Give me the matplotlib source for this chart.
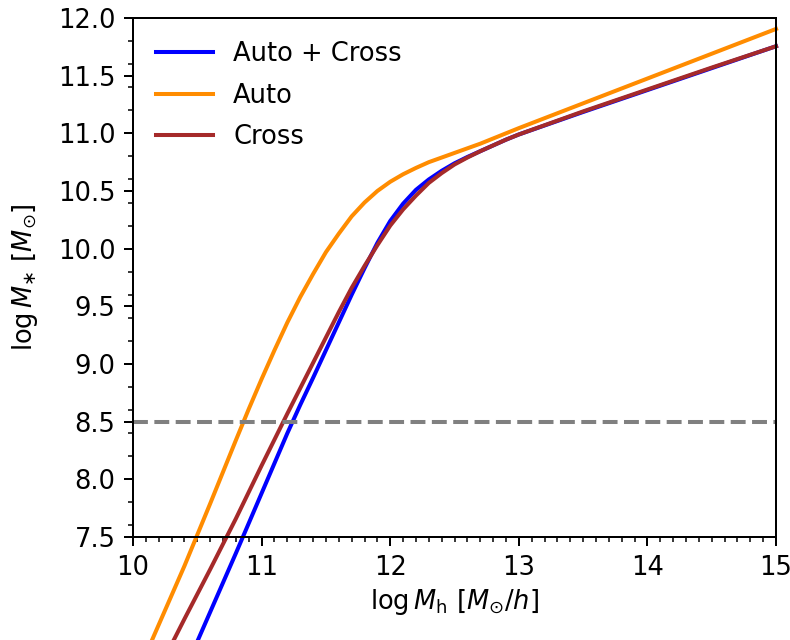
import numpy as np
import matplotlib
matplotlib.use('Agg')
import matplotlib.pyplot as plt
from matplotlib.ticker import MultipleLocator

# halo mass grid (log M_h) and stellar mass
logMh = [10.0, 10.2, 10.4, 10.6, 10.8, 10.9, 11.0, 11.1, 11.2, 11.3, 11.4, 11.5,
         11.6, 11.7, 11.8, 11.9, 12.0, 12.1, 12.2, 12.3, 12.4, 12.5, 12.6,
         12.7, 12.8, 12.9, 13.0, 13.5, 14.0, 14.5, 15.0]

# Auto + Cross
ms_both = [5.32, 5.83, 6.34, 6.85, 7.36, 7.62, 7.88, 8.14, 8.40, 8.645, 8.88, 9.12,
           9.36, 9.60, 9.83, 10.05, 10.24, 10.39, 10.51, 10.60, 10.675, 10.74, 10.795,
           10.845, 10.895, 10.945, 10.99, 11.185, 11.375, 11.565, 11.755]
# Auto
ms_auto = [6.23, 6.74, 7.25, 7.79, 8.34, 8.61, 8.87, 9.12, 9.36, 9.58, 9.78, 9.97,
           10.13, 10.28, 10.40, 10.50, 10.58, 10.645, 10.70, 10.75, 10.79, 10.83, 10.87,
           10.91, 10.955, 11.0, 11.045, 11.26, 11.475, 11.69, 11.905]
# Cross
ms_cross = [5.91, 6.35, 6.79, 7.22, 7.66, 7.89, 8.12, 8.345, 8.57, 8.79, 9.01, 9.23,
            9.45, 9.66, 9.85, 10.03, 10.20, 10.34, 10.46, 10.57, 10.655, 10.73, 10.79,
            10.845, 10.895, 10.945, 10.99, 11.19, 11.38, 11.57, 11.755]

labels = ['Auto + Cross', 'Auto', 'Cross']
colors = ['blue', 'darkorange', 'brown']
ms_cut = 8.5

fs = 18.5
plt.rcParams['font.size'] = fs
plt.rcParams['mathtext.fontset'] = 'dejavusans'

fig = plt.figure(figsize=(7.9, 6.4), dpi=100)
ax = fig.add_axes([0.1684, 0.1609, 0.8139, 0.811])

for ys, lab, col in zip([ms_both, ms_auto, ms_cross], labels, colors):
    ax.plot(logMh, ys, color=col, lw=2.9, label=lab, clip_on=False,
            solid_joinstyle='round')

ax.axhline(ms_cut, color='gray', ls='--', lw=2.9)

ax.set_xlim(10, 15)
ax.set_ylim(7.5, 12.0)
ax.xaxis.set_major_locator(MultipleLocator(1))
ax.xaxis.set_minor_locator(MultipleLocator(0.1))
ax.yaxis.set_major_locator(MultipleLocator(0.5))
ax.yaxis.set_minor_locator(MultipleLocator(0.2))

ax.tick_params(which='major', length=6.3, width=1.44, labelsize=fs, pad=6.3)
ax.tick_params(which='minor', length=3.6, width=1.1)
for s in ax.spines.values():
    s.set_linewidth(1.44)

ax.set_xlabel(r'$\log M_{\mathrm{h}}\ [M_{\odot}/h]$', fontsize=fs, labelpad=5)
ax.set_ylabel(r'$\log M_{\ast}\ [M_{\odot}]$', fontsize=fs, labelpad=13)

ax.legend(loc='upper left', frameon=False, fontsize=fs, labelspacing=0.6,
          handlelength=2.2)

fig.savefig('out.png', dpi=100)
